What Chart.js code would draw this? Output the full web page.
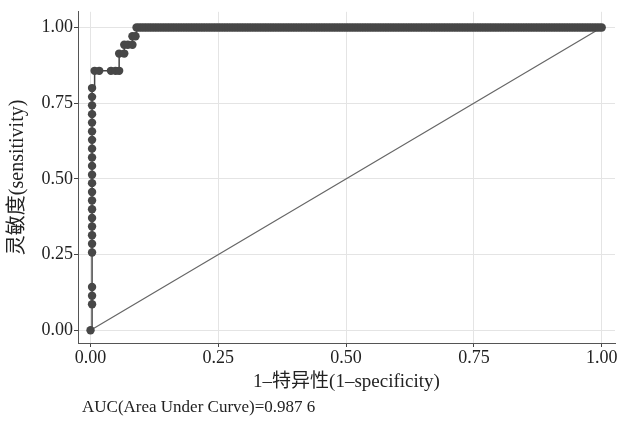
<!DOCTYPE html>
<html>
<head>
<meta charset="utf-8">
<script src="https://cdn.jsdelivr.net/npm/chart.js@4/dist/chart.umd.min.js"></script>
<style>
  html, body { margin: 0; padding: 0; background: #fff; }
  #wrap { width: 621px; height: 421px; }
</style>
</head>
<body>
<div id="wrap"><canvas id="roc" width="621" height="421"></canvas></div>
<script>
// ROC-Kurve, Werte vom Bild abgelesen
// steiler Teil links
var fprLow = [0, 0.003, 0.003, 0.003, 0.003, 0.003, 0.003, 0.003, 0.003, 0.003, 0.003, 0.003,
  0.003, 0.003, 0.003, 0.003, 0.003, 0.003, 0.003, 0.003, 0.003, 0.003, 0.003, 0.003,
  0.008, 0.017, 0.040, 0.049, 0.056,
  0.056, 0.066,
  0.066, 0.073, 0.082,
  0.082, 0.088];
var tprLow = [0, 0.086, 0.114, 0.143, 0.257, 0.286, 0.314, 0.343, 0.371, 0.400, 0.429, 0.457,
  0.486, 0.514, 0.543, 0.571, 0.600, 0.629, 0.657, 0.686, 0.714, 0.743, 0.771, 0.800,
  0.857, 0.857, 0.857, 0.857, 0.857,
  0.914, 0.914,
  0.943, 0.943, 0.943,
  0.971, 0.971];
// obere Reihe (Sensitivität = 1)
var fprTop = [0.090, 0.095, 0.100, 0.105, 0.110, 0.115, 0.120, 0.125, 0.130, 0.135, 0.140, 0.145,
  0.150, 0.155, 0.160, 0.165, 0.170, 0.175, 0.180, 0.185, 0.190, 0.195, 0.200, 0.205, 0.210,
  0.215, 0.220, 0.225, 0.230, 0.235, 0.240, 0.245, 0.250, 0.255, 0.260, 0.265, 0.270, 0.275,
  0.280, 0.285, 0.290, 0.295, 0.300, 0.305, 0.310, 0.315, 0.320, 0.325, 0.330, 0.335, 0.340,
  0.345, 0.350, 0.355, 0.360, 0.365, 0.370, 0.375, 0.380, 0.385, 0.390, 0.395, 0.400, 0.405,
  0.410, 0.415, 0.420, 0.425, 0.430, 0.435, 0.440, 0.445, 0.450, 0.455, 0.460, 0.465, 0.470,
  0.475, 0.480, 0.485, 0.490, 0.495, 0.500, 0.505, 0.510, 0.515, 0.520, 0.525, 0.530, 0.535,
  0.540, 0.545, 0.550, 0.555, 0.560, 0.565, 0.570, 0.575, 0.580, 0.585, 0.590, 0.595, 0.600,
  0.605, 0.610, 0.615, 0.620, 0.625, 0.630, 0.635, 0.640, 0.645, 0.650, 0.655, 0.660, 0.665,
  0.670, 0.675, 0.680, 0.685, 0.690, 0.695, 0.700, 0.705, 0.710, 0.715, 0.720, 0.725, 0.730,
  0.735, 0.740, 0.745, 0.750, 0.755, 0.760, 0.765, 0.770, 0.775, 0.780, 0.785, 0.790, 0.795,
  0.800, 0.805, 0.810, 0.815, 0.820, 0.825, 0.830, 0.835, 0.840, 0.845, 0.850, 0.855, 0.860,
  0.865, 0.870, 0.875, 0.880, 0.885, 0.890, 0.895, 0.900, 0.905, 0.910, 0.915, 0.920, 0.925,
  0.930, 0.935, 0.940, 0.945, 0.950, 0.955, 0.960, 0.965, 0.970, 0.975, 0.980, 0.985, 0.990,
  0.995, 1.000];
var tprTop = 1;
var refX = [0, 1];
var refY = [0, 1];
var xTicks = [0, 0.25, 0.5, 0.75, 1];
var yTicks = [0, 0.25, 0.5, 0.75, 1];
var xTitle = "1–特异性(1–specificity)";
var yTitle = "灵敏度(sensitivity)";
var aucText = "AUC(Area Under Curve)=0.987 6";

var serif = "'Liberation Serif', 'Noto Sans CJK SC', serif";

function rocPoints() {
  var out = [];
  for (var i = 0; i < fprLow.length; i++) out.push({ x: fprLow[i], y: tprLow[i] });
  for (var j = 0; j < fprTop.length; j++) out.push({ x: fprTop[j], y: tprTop });
  return out;
}

// AUC-Text unter der Achse
var aucPlugin = {
  id: "auc",
  afterDraw: function (chart) {
    var ctx = chart.ctx;
    ctx.save();
    ctx.font = "17px " + serif;
    ctx.fillStyle = "#222";
    ctx.textAlign = "left";
    ctx.textBaseline = "middle";
    ctx.fillText(aucText, chart.chartArea.left + 4, 408);
    ctx.restore();
  }
};

new Chart(document.getElementById("roc").getContext("2d"), {
  type: "scatter",
  data: {
    datasets: [{
      data: rocPoints(),
      showLine: true,
      stepped: "before",
      borderColor: "#444",
      borderWidth: 1.5,
      pointRadius: 4.2,
      pointBackgroundColor: "#474747",
      pointBorderWidth: 0,
      order: 1
    }, {
      data: [{ x: refX[0], y: refY[0] }, { x: refX[1], y: refY[1] }],
      showLine: true,
      borderColor: "#666",
      borderWidth: 1.2,
      pointRadius: 0,
      order: 2
    }]
  },
  options: {
    responsive: false,
    animation: false,
    layout: { padding: { left: 4, right: 6, top: 5, bottom: 28 } },
    plugins: { legend: { display: false }, tooltip: { enabled: false } },
    scales: {
      x: {
        type: "linear",
        min: -0.0245,
        max: 1.026,
        afterBuildTicks: function (s) { s.ticks = xTicks.map(function (v) { return { value: v }; }); },
        afterFit: function (s) { s.height = 50; },
        ticks: {
          padding: 0,
          color: "#222",
          font: { family: serif, size: 18 },
          callback: function (v) { return v.toFixed(2); }
        },
        grid: { color: "#e4e4e4", tickColor: "#444", tickLength: 4, lineWidth: 1 },
        border: { color: "#555", width: 1 },
        title: { display: true, text: xTitle, color: "#222", padding: 0, font: { family: serif, size: 19 } }
      },
      y: {
        type: "linear",
        min: -0.042,
        max: 1.052,
        afterBuildTicks: function (s) { s.ticks = yTicks.map(function (v) { return { value: v }; }); },
        afterFit: function (s) { s.width = 74; },
        ticks: {
          padding: 1,
          color: "#222",
          font: { family: serif, size: 18 },
          callback: function (v) { return v.toFixed(2); }
        },
        grid: { color: "#e4e4e4", tickColor: "#444", tickLength: 4, lineWidth: 1 },
        border: { color: "#555", width: 1 },
        title: { display: true, text: yTitle, color: "#222", padding: { top: 2, bottom: 0 }, font: { family: serif, size: 20 } }
      }
    }
  },
  plugins: [aucPlugin]
});
</script>
</body>
</html>
